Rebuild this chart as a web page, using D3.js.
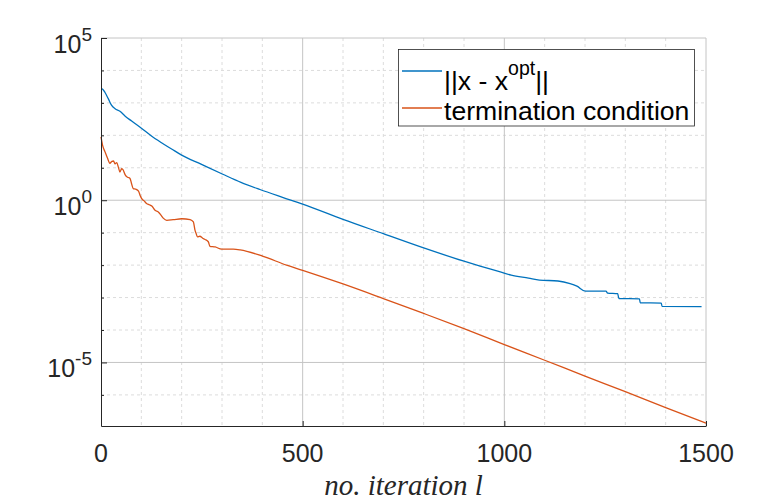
<!DOCTYPE html>
<html>
<head>
<meta charset="utf-8">
<script src="https://cdn.jsdelivr.net/npm/d3@7"></script>
<style>
  body { margin: 0; background: #fff; }
  svg { display: block; }
</style>
</head>
<body>
<div id="chart"></div>
<script>
// ||x - x_opt|| per iteration
const errIter = [0, 4, 10, 18, 26, 35, 47, 60, 76, 101, 125, 149, 175, 200, 248, 302, 347, 394, 450, 500,
  600, 700, 800, 900, 940, 990, 1017, 1060, 1087, 1133, 1163, 1180, 1201, 1252, 1256, 1281, 1284,
  1335, 1337, 1389, 1391, 1489];
const errValues = [2.75e3, 2.63e3, 2.09e3, 1.35e3, 851, 661, 550, 389, 275, 162, 95.5, 60.3, 38.0, 24.5,
  12.9, 6.31, 3.55, 2.14, 1.23, 0.759, 0.257, 0.0933, 0.0339, 0.0132, 9.33e-3, 6.17e-3, 4.90e-3,
  3.98e-3, 3.47e-3, 3.24e-3, 2.69e-3, 2.24e-3, 1.58e-3, 1.58e-3, 1.38e-3, 1.32e-3, 9.33e-4,
  9.12e-4, 6.92e-4, 6.76e-4, 5.37e-4, 5.25e-4];

// termination condition per iteration
const termIter = [0, 4, 10, 16, 22, 27, 31, 35, 39, 43, 47, 51, 54, 60, 64, 68, 72, 76, 80, 86, 93, 97,
  101, 107, 113, 120, 126, 134, 142, 150, 155, 163, 179, 200, 221, 229, 233, 236, 239, 245, 252,
  258, 266, 270, 283, 299, 328, 345, 402, 460, 500, 600, 700, 800, 900, 1000, 1100, 1200, 1300,
  1400, 1500];
const termValues = [89.1, 49.0, 30.9, 20.0, 13.8, 15.8, 16.2, 13.2, 14.5, 10.5, 7.41, 9.33, 8.91, 6.03,
  5.25, 5.01, 4.68, 3.16, 2.29, 2.19, 1.91, 1.41, 1.12, 0.955, 0.794, 0.724, 0.661, 0.490, 0.437,
  0.331, 0.275, 0.240, 0.251, 0.269, 0.251, 0.214, 0.120, 0.0933, 0.0741, 0.0776, 0.0676, 0.0617,
  0.0525, 0.0380, 0.0363, 0.0309, 0.0309, 0.0295, 0.0186, 0.0100, 6.92e-3, 2.63e-3, 9.33e-4,
  3.24e-4, 1.10e-4, 3.55e-5, 1.17e-5, 3.80e-6, 1.26e-6, 4.07e-7, 1.35e-7];

const xMajor = [0, 500, 1000, 1500];
const xMinor = [100, 200, 300, 400, 600, 700, 800, 900, 1100, 1200, 1300, 1400];
const yMajor = [1e-5, 1e0, 1e5];
const yMinor = [1e-6, 1e-4, 1e-3, 1e-2, 1e-1, 1e1, 1e2, 1e3, 1e4];
const yExp = ['-5', '0', '5'];
const seriesNames = ['||x - x', 'termination condition'];

const width = 780, height = 503;
const plotLeft = 101, plotRight = 706, plotTop = 38, plotBottom = 426;
const blue = '#0072BD', orange = '#D95319', ink = '#262626';
const font = '"Liberation Sans", Arial, Helvetica, sans-serif';

const svg = d3.select('#chart').append('svg')
  .attr('width', width)
  .attr('height', height);

const x = d3.scaleLinear().domain([0, 1500]).range([plotLeft, plotRight]);
const y = d3.scaleLog().domain([1.1e-7, 1e5]).range([plotBottom, plotTop]);

// grid
const grid = svg.append('g');
grid.selectAll('.xminor').data(xMinor).enter().append('line')
  .attr('x1', d => x(d)).attr('x2', d => x(d))
  .attr('y1', plotTop).attr('y2', plotBottom)
  .attr('stroke', '#dcdcdc').attr('stroke-dasharray', '3,3');
grid.selectAll('.yminor').data(yMinor).enter().append('line')
  .attr('x1', plotLeft).attr('x2', plotRight)
  .attr('y1', d => y(d)).attr('y2', d => y(d))
  .attr('stroke', '#dcdcdc').attr('stroke-dasharray', '3,3');
grid.selectAll('.xmajor').data(xMajor.slice(1)).enter().append('line')
  .attr('x1', d => x(d)).attr('x2', d => x(d))
  .attr('y1', plotTop).attr('y2', plotBottom)
  .attr('stroke', '#c4c4c4');
grid.selectAll('.ymajor').data(yMajor).enter().append('line')
  .attr('x1', plotLeft).attr('x2', plotRight)
  .attr('y1', d => y(d)).attr('y2', d => y(d))
  .attr('stroke', '#c4c4c4');

// lines
const line = d3.line()
  .curve(d3.curveMonotoneX)
  .x(d => x(d[0]))
  .y(d => y(d[1]));

svg.append('path')
  .datum(errIter.map((t, i) => [t, errValues[i]]))
  .attr('fill', 'none')
  .attr('stroke', blue)
  .attr('stroke-width', 1.3)
  .attr('d', line);

svg.append('path')
  .datum(termIter.map((t, i) => [t, termValues[i]]))
  .attr('fill', 'none')
  .attr('stroke', orange)
  .attr('stroke-width', 1.3)
  .attr('d', line);

// axes
svg.append('g')
  .attr('transform', `translate(0,${plotBottom})`)
  .call(d3.axisBottom(x).tickValues(xMajor).tickSizeInner(-5).tickSizeOuter(0).tickFormat(''));
svg.append('g')
  .attr('transform', `translate(${plotLeft},0)`)
  .call(d3.axisLeft(y).tickValues(yMajor).tickSizeInner(-6).tickSizeOuter(0).tickFormat(''));
svg.append('g')
  .attr('transform', `translate(${plotLeft},0)`)
  .call(d3.axisLeft(y).tickValues(yMinor).tickSizeInner(-3).tickSizeOuter(0).tickFormat(''))
  .select('.domain').remove();
svg.selectAll('.domain').attr('stroke', ink);
svg.selectAll('.tick line').attr('stroke', ink);

// tick labels
svg.selectAll('.xlabel').data(xMajor).enter().append('text')
  .attr('x', d => x(d))
  .attr('y', 462)
  .attr('text-anchor', 'middle')
  .style('font-family', font)
  .style('font-size', '25px')
  .attr('fill', ink)
  .text(d => d);

const ylab = svg.selectAll('.ylabel').data(yMajor).enter().append('text')
  .attr('x', 92)
  .attr('y', d => y(d) + 15)
  .attr('text-anchor', 'end')
  .style('font-family', font)
  .attr('fill', ink);
ylab.append('tspan').style('font-size', '25px').text('10');
ylab.append('tspan').style('font-size', '19px').attr('dy', -12).text((d, i) => yExp[i]);

svg.append('text')
  .attr('x', (plotLeft + plotRight) / 2)
  .attr('y', 495)
  .attr('text-anchor', 'middle')
  .style('font-family', '"Liberation Serif", "Times New Roman", serif')
  .style('font-style', 'italic')
  .style('font-size', '29px')
  .attr('fill', ink)
  .text('no. iteration l');

// legend
const legend = svg.append('g');
legend.append('rect')
  .attr('x', 398.5).attr('y', 49.5)
  .attr('width', 296).attr('height', 76.5)
  .attr('fill', '#fff')
  .attr('stroke', ink)
  .attr('stroke-width', 0.8);
legend.append('line')
  .attr('x1', 402).attr('x2', 442).attr('y1', 71).attr('y2', 71)
  .attr('stroke', blue).attr('stroke-width', 1.3);
legend.append('line')
  .attr('x1', 402).attr('x2', 442).attr('y1', 108).attr('y2', 108)
  .attr('stroke', orange).attr('stroke-width', 1.3);
const l1 = legend.append('text')
  .attr('x', 444).attr('y', 90)
  .style('font-family', font).style('font-size', '26.6px')
  .attr('fill', '#000');
l1.append('tspan').text(seriesNames[0]);
l1.append('tspan').style('font-size', '19.5px').attr('dy', -15).text('opt');
l1.append('tspan').attr('dy', 15).text('||');
legend.append('text')
  .attr('x', 444).attr('y', 120)
  .style('font-family', font).style('font-size', '26.6px')
  .attr('fill', '#000')
  .text(seriesNames[1]);
</script>
</body>
</html>
